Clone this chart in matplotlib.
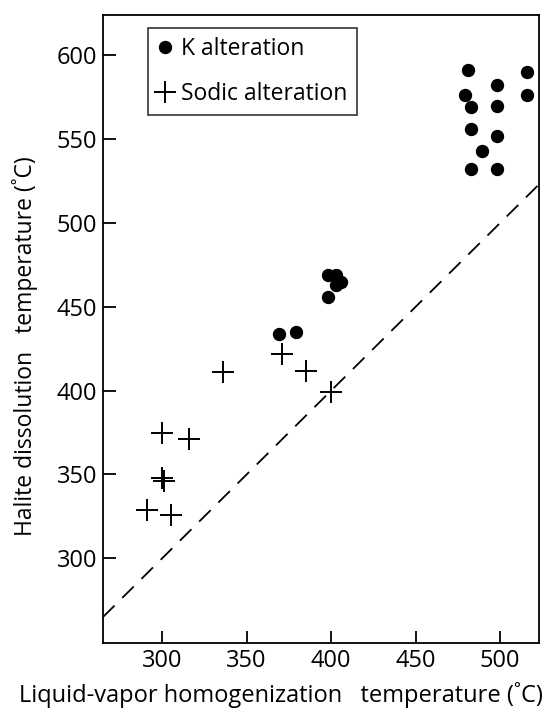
import matplotlib
matplotlib.use("Agg")
import matplotlib.pyplot as plt
from matplotlib.lines import Line2D

plt.rcParams['font.family'] = ['Open Sans', 'DejaVu Sans']

# K alteration (liquid-vapor homogenization T, halite dissolution T)
k_x = [369, 379, 398, 398, 403, 403, 406,
       481, 516, 498, 479, 516, 483, 498, 483, 498, 489, 483, 498]
k_y = [434, 435, 456, 469, 469, 463, 465,
       591, 590, 582, 576, 576, 569, 570, 556, 552, 543, 532, 532]

# Sodic alteration
na_x = [291, 305, 300, 301, 300, 316, 336, 371, 385, 400]
na_y = [329, 326, 348, 346, 375, 371, 411, 422, 412, 399]

xticks = [300, 350, 400, 450, 500]
yticks = [300, 350, 400, 450, 500, 550, 600]
xlim = (265, 523)
ylim = (249.5, 624)

fig = plt.figure(figsize=(5.45, 7.13), dpi=100)
ax = fig.add_axes([103/545, 1 - 643/713, 436/545, 628/713])

# 1:1 line
ax.plot(xlim, xlim, color='black', lw=1.3, dashes=(9, 6))

ax.plot(k_x, k_y, 'o', color='black', ms=8.6, ls='none')
ax.plot(na_x, na_y, '+', color='black', ms=15.5, mew=1.4, ls='none')

ax.set_xlim(*xlim)
ax.set_ylim(*ylim)
ax.set_xticks(xticks)
ax.set_yticks(yticks)
ax.tick_params(direction='in', length=9, width=1.3, labelsize=17, pad=4,
               top=False, right=False)
for s in ax.spines.values():
    s.set_linewidth(1.3)

xl = ax.set_xlabel('Liquid-vapor homogenization   temperature (˚C)', fontsize=17,
                   labelpad=7, loc='right')
xl.set_x(1 + 4/436)
yl = ax.set_ylabel('Halite dissolution   temperature (˚C)', fontsize=16.5)
yl.set_va('center')
ax.yaxis.set_label_coords(-78/436, (643 - 346)/628)

handles = [Line2D([], [], marker='o', color='black', ls='none', ms=8.6),
           Line2D([], [], marker='+', color='black', ls='none', ms=15.5, mew=1.4)]
leg = ax.legend(handles, ['K alteration', 'Sodic alteration'], loc='upper left',
                bbox_to_anchor=(45/436, 1 - 13/628), fontsize=16.5, frameon=True,
                fancybox=False, edgecolor='black', handlelength=0.7, handletextpad=0.35,
                borderpad=0.4, labelspacing=0.9, borderaxespad=0)
leg.get_frame().set_linewidth(1.2)

fig.savefig('out.png', dpi=100)
